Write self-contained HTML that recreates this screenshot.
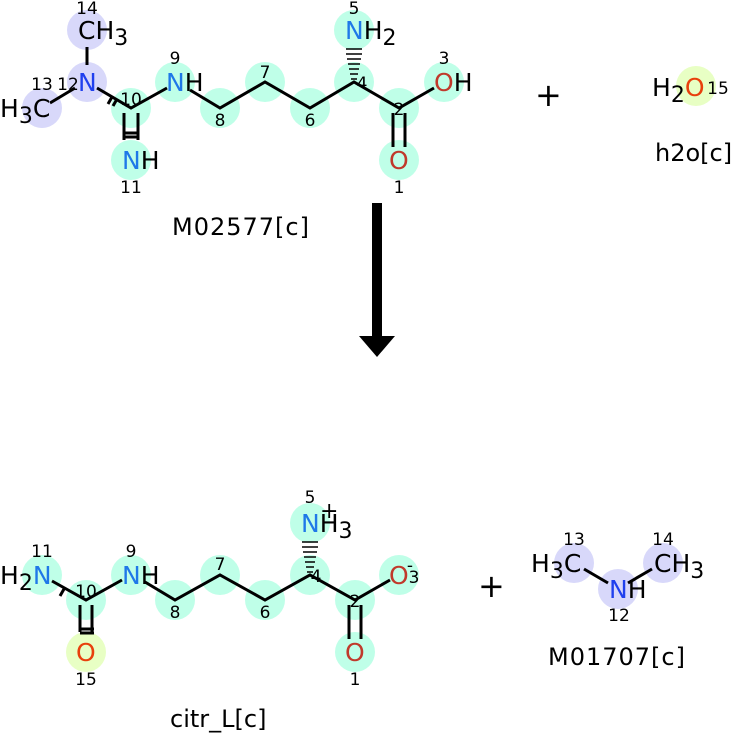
<!DOCTYPE html>
<html><head><style>body{margin:0;background:#fff}svg{display:block}text{font-family:"DejaVu Sans","Liberation Sans",sans-serif}</style></head><body>
<svg width="736" height="733" viewBox="0 0 736 733" xmlns="http://www.w3.org/2000/svg">
<g fill="#bfffe8">
<circle cx="131" cy="108" r="20"/><circle cx="131" cy="160" r="20"/><circle cx="175" cy="82" r="20"/><circle cx="220" cy="108" r="20"/><circle cx="265" cy="82" r="20"/><circle cx="310" cy="108" r="20"/><circle cx="354" cy="82" r="20"/><circle cx="354" cy="30" r="20"/><circle cx="399" cy="108" r="20"/><circle cx="444" cy="82" r="20"/><circle cx="399" cy="160" r="20"/>
<circle cx="42" cy="575" r="20"/><circle cx="86" cy="600" r="20"/><circle cx="131" cy="575" r="20"/><circle cx="175" cy="600" r="20"/><circle cx="220" cy="575" r="20"/><circle cx="265" cy="600" r="20"/><circle cx="310" cy="575" r="20"/><circle cx="310" cy="523" r="20"/><circle cx="355" cy="600" r="20"/><circle cx="399" cy="575" r="20"/><circle cx="355" cy="652" r="20"/>
</g>
<g fill="#d8d8fa"><circle cx="87" cy="30" r="20"/><circle cx="87" cy="82" r="20"/><circle cx="42" cy="108" r="20"/><circle cx="574" cy="563" r="20"/><circle cx="618" cy="589" r="20"/><circle cx="663" cy="563" r="20"/></g>
<g fill="#e8ffc4"><circle cx="86" cy="652" r="20"/><circle cx="696" cy="86" r="20"/></g>
<g stroke="#000" stroke-width="3" fill="none">
<path d="M87 47V65M50 103L75 88M97 88L131 108L167 88M190 90L220 108L265 82L310 108L354 82L399 108L434 88M124 113V140M138 113V140M393 113V147M405 113V147"/>
<path d="M112 97l-4 7M117 99l-4 7M124 133h14M124 137h14"/>
<path d="M52 581L86 600L122 580M145 582L175 600L220 575L265 600L310 575L355 600L390 580M80 605V632M92 605V632M349 605V639M361 605V639M64 589l-4 7M80 629h14M80 633h14"/>
<path d="M584 569L608 583M628 583L652 569"/>
</g>
<g stroke="#000" stroke-width="1.5"><path d="M351 79h6M350 74h8M349 69h10M348 64h12M347 59h14M346 54h16M346 49h16M307 572h6M306 567h8M305 562h10M304 557h12M303 552h14M302 547h16M302 542h16"/></g>
<g font-size="25">
<text x="78" y="39">CH<tspan font-size="22" dy="6">3</tspan></text>
<text x="0" y="117">H<tspan font-size="22" dy="6">3</tspan><tspan dy="-6">C</tspan></text>
<text x="78" y="91" fill="#2040ee">N</text>
<text x="122" y="169"><tspan fill="#1f78e8">N</tspan>H</text>
<text x="166" y="91"><tspan fill="#1f78e8">N</tspan>H</text>
<text x="345" y="39"><tspan fill="#1f78e8">N</tspan>H<tspan font-size="22" dy="6">2</tspan></text>
<text x="434" y="91"><tspan fill="#c0392b">O</tspan>H</text>
<text x="389" y="169" fill="#c0392b">O</text>
<text x="0" y="584">H<tspan font-size="22" dy="6">2</tspan><tspan dy="-6" fill="#1f78e8">N</tspan></text>
<text x="122" y="584"><tspan fill="#1f78e8">N</tspan>H</text>
<text x="301" y="532"><tspan fill="#1f78e8">N</tspan>H<tspan font-size="22" dy="6">3</tspan></text>
<text x="320" y="518" font-size="22">+</text>
<text x="389" y="584" fill="#c0392b">O</text>
<text x="345" y="661" fill="#c0392b">O</text>
<text x="76" y="661" fill="#e8400c">O</text>
<text x="531" y="572">H<tspan font-size="22" dy="6">3</tspan><tspan dy="-6">C</tspan></text>
<text x="609" y="598"><tspan fill="#2040ee">N</tspan>H</text>
<text x="654" y="572">CH<tspan font-size="22" dy="6">3</tspan></text>
<text x="652" y="96">H<tspan font-size="22" dy="6">2</tspan><tspan dy="-6" fill="#e8400c">O</tspan></text>
<text x="172" y="235" font-size="24" letter-spacing="1">M02577[c]</text>
<text x="655" y="161" font-size="24">h2o[c]</text>
<text x="548" y="665" font-size="24" letter-spacing="1">M01707[c]</text>
<text x="170" y="727" font-size="24">citr_L[c]</text>
</g>
<g font-size="32"><text x="535" y="106">+</text><text x="478" y="597">+</text></g>
<g font-size="17" text-anchor="middle">
<text x="87" y="14">14</text><text x="42" y="90">13</text><text x="68" y="90">12</text><text x="131" y="105">10</text><text x="131" y="193">11</text><text x="175" y="64">9</text><text x="220" y="126">8</text><text x="265" y="78">7</text><text x="310" y="126">6</text><text x="362" y="89">4</text><text x="354" y="14">5</text><text x="444" y="64">3</text><text x="399" y="115">2</text><text x="399" y="193">1</text>
<text x="42" y="557">11</text><text x="86" y="597">10</text><text x="131" y="557">9</text><text x="175" y="618">8</text><text x="220" y="570">7</text><text x="265" y="618">6</text><text x="316" y="582">4</text><text x="310" y="503">5</text><text x="355" y="607">2</text><text x="355" y="685">1</text><text x="86" y="685">15</text><text x="414" y="583">3</text><text x="410" y="571">-</text>
<text x="574" y="545">13</text><text x="663" y="545">14</text><text x="619" y="621">12</text><text x="718" y="94">15</text>
</g>
<rect x="372" y="203" width="10" height="135" fill="#000"/>
<polygon points="359,336 395,336 377,357" fill="#000"/>
</svg>
</body></html>
